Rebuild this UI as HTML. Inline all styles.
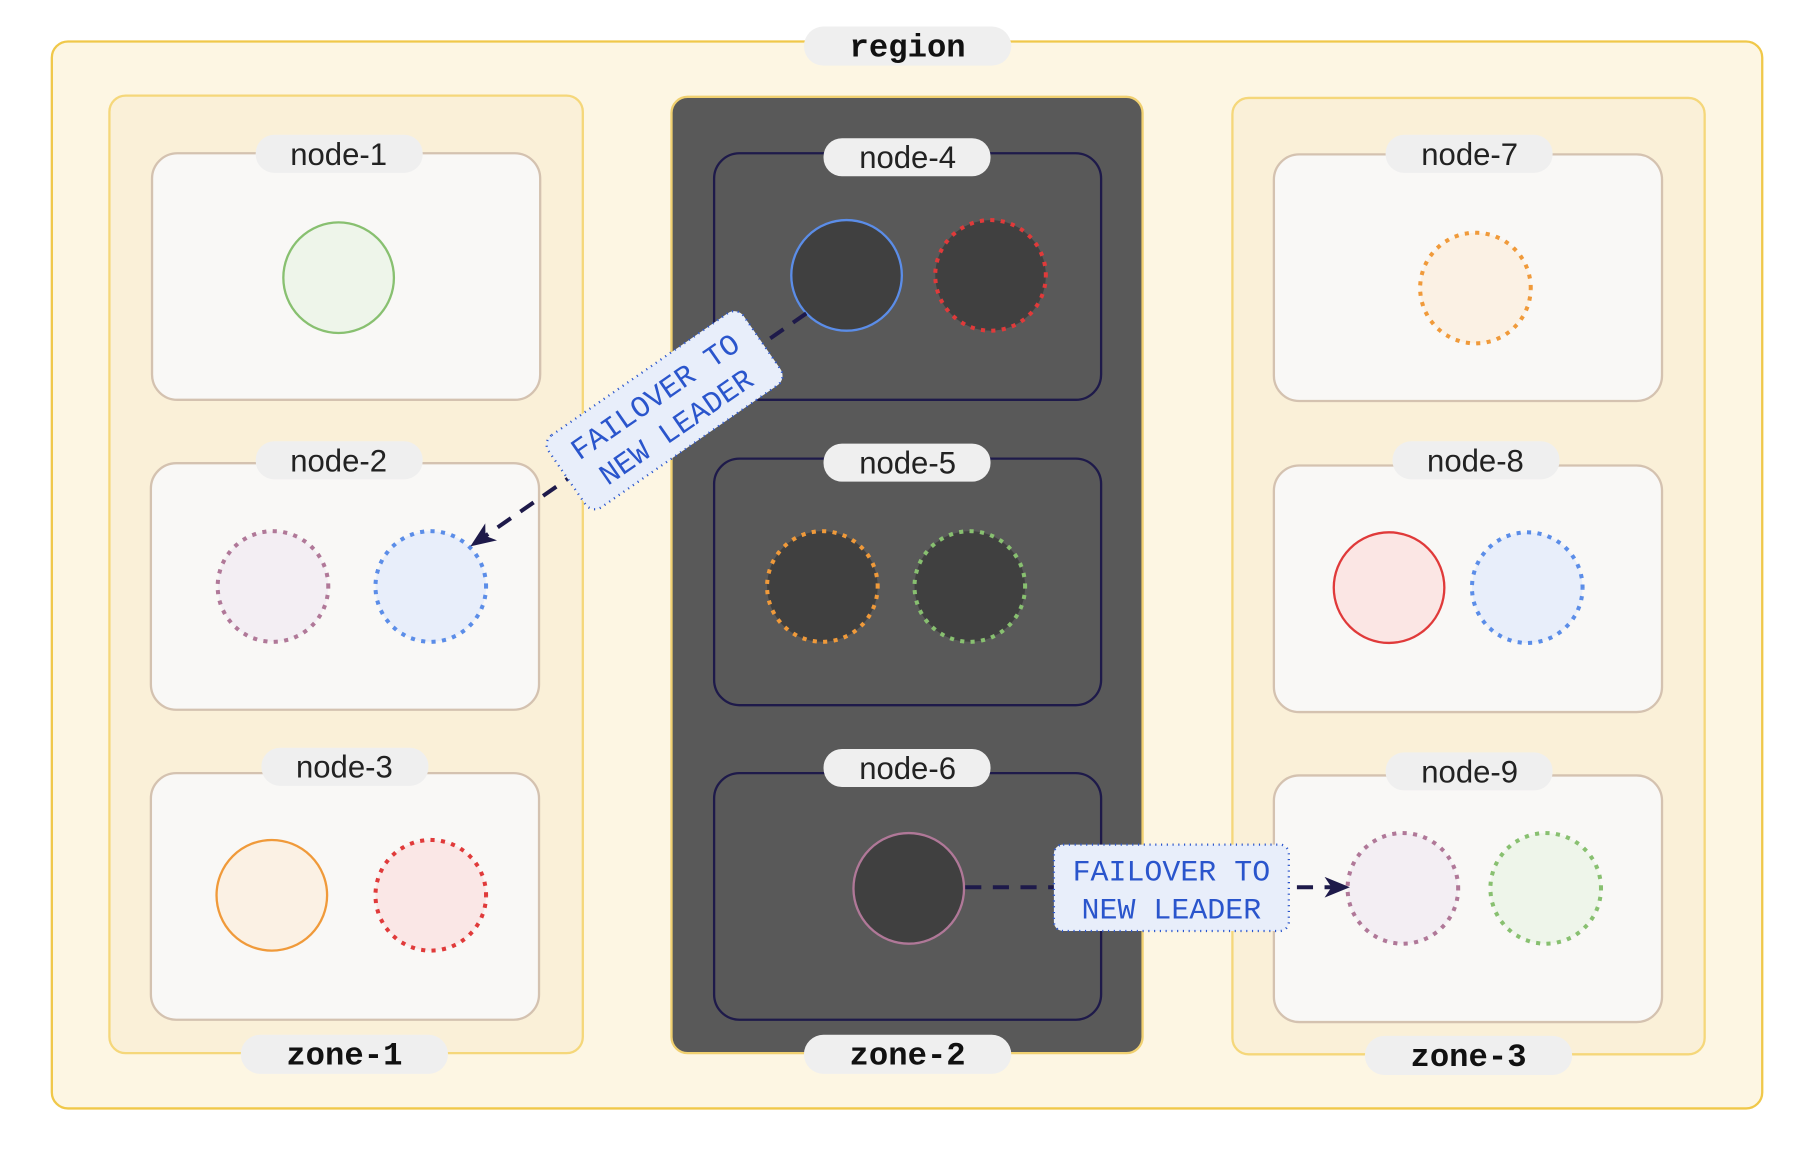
<!DOCTYPE html>
<html><head><meta charset="utf-8"><style>
html,body{margin:0;padding:0;background:#fff;}
svg{display:block;}
.pill{fill:#efefef;}
.nl{font-family:"Liberation Sans","DejaVu Sans",sans-serif;font-size:27px;fill:#222;text-anchor:middle;}
.zl{font-family:"Liberation Mono","DejaVu Sans Mono",monospace;font-size:28px;font-weight:bold;fill:#111;text-anchor:middle;}
.fl{font-family:"Liberation Mono","DejaVu Sans Mono",monospace;font-size:26px;fill:#2a55cc;text-anchor:middle;}
</style></head><body>
<svg width="1806" height="1158" viewBox="0 0 1568 1005" preserveAspectRatio="none" xmlns="http://www.w3.org/2000/svg">
<defs><marker id="ah" markerWidth="22" markerHeight="18" refX="20" refY="9" orient="auto" markerUnits="userSpaceOnUse" viewBox="0 0 22 18"><path d="M0,0 L22,9 L0,18 L6,9 z" fill="#1e1a4a"/></marker></defs>
<g>
<rect x="45" y="36" width="1485" height="926" rx="14" fill="#fdf6e3" stroke="#f0c84a" stroke-width="2"/>
<rect class="pill" x="698" y="23" width="180" height="34" rx="17"/>
<text class="zl" x="788" y="49">region</text></g>

<g>
<rect x="95" y="83" width="411" height="831" rx="14" fill="#faf0d8" stroke="#f5d77a" stroke-width="2"/></g>
<g>
<rect x="583" y="84" width="409" height="830" rx="14" fill="#595959" stroke="#f0d070" stroke-width="2"/></g>
<g>
<rect x="1070" y="85" width="410" height="830" rx="14" fill="#faf0d8" stroke="#f5d77a" stroke-width="2"/></g>

<g><rect x="132" y="133" width="337" height="214" rx="22" fill="#f9f8f6" stroke="#d4c2b0" stroke-width="2"/><rect class="pill" x="222" y="117" width="145" height="33" rx="16"/><text class="nl" x="294" y="143">node-1</text></g>
<g><rect x="131" y="402" width="337" height="214" rx="22" fill="#f9f8f6" stroke="#d4c2b0" stroke-width="2"/><rect class="pill" x="222" y="383" width="145" height="33" rx="16"/><text class="nl" x="294" y="409">node-2</text></g>
<g><rect x="131" y="671" width="337" height="214" rx="22" fill="#f9f8f6" stroke="#d4c2b0" stroke-width="2"/><rect class="pill" x="227" y="649" width="145" height="33" rx="16"/><text class="nl" x="299" y="675">node-3</text></g>

<g><rect x="620" y="133" width="336" height="214" rx="22" fill="none" stroke="#1e1a4a" stroke-width="2"/><rect class="pill" x="715" y="120" width="145" height="33" rx="16"/><text class="nl" x="788" y="146">node-4</text></g>
<g><rect x="620" y="398" width="336" height="214" rx="22" fill="none" stroke="#1e1a4a" stroke-width="2"/><rect class="pill" x="715" y="385" width="145" height="33" rx="16"/><text class="nl" x="788" y="411">node-5</text></g>
<g><rect x="620" y="671" width="336" height="214" rx="22" fill="none" stroke="#1e1a4a" stroke-width="2"/><rect class="pill" x="715" y="650" width="145" height="33" rx="16"/><text class="nl" x="788" y="676">node-6</text></g>

<g><rect x="1106" y="134" width="337" height="214" rx="22" fill="#f9f8f6" stroke="#d4c2b0" stroke-width="2"/><rect class="pill" x="1203" y="117" width="145" height="33" rx="16"/><text class="nl" x="1276" y="143">node-7</text></g>
<g><rect x="1106" y="404" width="337" height="214" rx="22" fill="#f9f8f6" stroke="#d4c2b0" stroke-width="2"/><rect class="pill" x="1209" y="383" width="145" height="33" rx="16"/><text class="nl" x="1281" y="409">node-8</text></g>
<g><rect x="1106" y="673" width="337" height="214" rx="22" fill="#f9f8f6" stroke="#d4c2b0" stroke-width="2"/><rect class="pill" x="1203" y="653" width="145" height="33" rx="16"/><text class="nl" x="1276" y="679">node-9</text></g>

<g>
<rect class="pill" x="209" y="898" width="180" height="34" rx="17"/><text class="zl" x="299" y="924">zone-1</text>
<rect class="pill" x="698" y="898" width="180" height="34" rx="17"/><text class="zl" x="788" y="924">zone-2</text>
<rect class="pill" x="1185" y="899" width="180" height="34" rx="17"/><text class="zl" x="1275" y="925">zone-3</text>
</g>

<g stroke-width="2">
<circle cx="294" cy="241" r="48" fill="#eef5ea" stroke="#88c070"/>
<circle cx="237" cy="509" r="48" fill="#f3eef3" stroke="#b07898" stroke-dasharray="0.1 9" stroke-width="3.5" stroke-linecap="square"/>
<circle cx="374" cy="509" r="48" fill="#e8eefa" stroke="#5b8de8" stroke-dasharray="0.1 9" stroke-width="3.5" stroke-linecap="square"/>
<circle cx="236" cy="777" r="48" fill="#fbf1e4" stroke="#f09a3a"/>
<circle cx="374" cy="777" r="48" fill="#fae7e6" stroke="#e03a3a" stroke-dasharray="0.1 9" stroke-width="3.5" stroke-linecap="square"/>
<circle cx="735" cy="239" r="48" fill="#404040" stroke="#5b8de8"/>
<circle cx="860" cy="239" r="48" fill="#404040" stroke="#e03a3a" stroke-dasharray="0.1 9" stroke-width="3.5" stroke-linecap="square"/>
<circle cx="714" cy="509" r="48" fill="#404040" stroke="#f09a3a" stroke-dasharray="0.1 9" stroke-width="3.5" stroke-linecap="square"/>
<circle cx="842" cy="509" r="48" fill="#404040" stroke="#88c070" stroke-dasharray="0.1 9" stroke-width="3.5" stroke-linecap="square"/>
<circle cx="789" cy="771" r="48" fill="#404040" stroke="#b07898"/>
<circle cx="1281" cy="250" r="48" fill="#fbf1e4" stroke="#f09a3a" stroke-dasharray="0.1 9" stroke-width="3.5" stroke-linecap="square"/>
<circle cx="1206" cy="510" r="48" fill="#fbe6e4" stroke="#e03a3a"/>
<circle cx="1326" cy="510" r="48" fill="#e8eefa" stroke="#5b8de8" stroke-dasharray="0.1 9" stroke-width="3.5" stroke-linecap="square"/>
<circle cx="1218" cy="771" r="48" fill="#f3eef3" stroke="#b07898" stroke-dasharray="0.1 9" stroke-width="3.5" stroke-linecap="square"/>
<circle cx="1342" cy="771" r="48" fill="#eef5ea" stroke="#88c070" stroke-dasharray="0.1 9" stroke-width="3.5" stroke-linecap="square"/>
</g>

<g>
<line x1="700" y1="272" x2="410" y2="473" stroke="#1e1a4a" stroke-width="3.5" stroke-dasharray="14 10" marker-end="url(#ah)"/>
<g transform="translate(577,356) rotate(-34.7)">
<rect x="-103" y="-38" width="206" height="76" rx="10" fill="#e8eefa" stroke="#2a55cc" stroke-width="2" stroke-dasharray="1 4"/>
<text class="fl" x="0" y="-6">FAILOVER TO</text><text class="fl" x="0" y="26">NEW LEADER</text></g>
</g>
<g>
<line x1="838" y1="770" x2="1170" y2="770" stroke="#1e1a4a" stroke-width="3.5" stroke-dasharray="14 10" marker-end="url(#ah)"/>
<rect x="915" y="733" width="204" height="75" rx="8" fill="#e8eefa" stroke="#2a55cc" stroke-width="2" stroke-dasharray="1 4"/>
<text class="fl" x="1017" y="764">FAILOVER TO</text><text class="fl" x="1017" y="797">NEW LEADER</text>
</g>
</svg>
</body></html>
